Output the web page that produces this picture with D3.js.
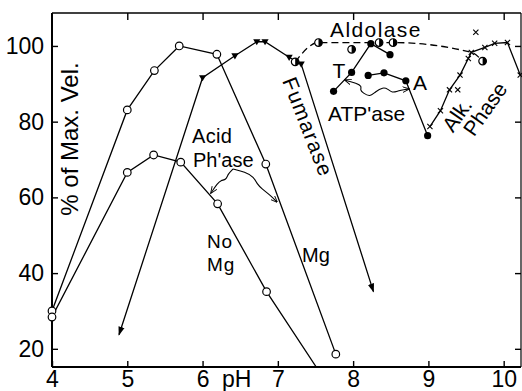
<!DOCTYPE html>
<html><head><meta charset="utf-8">
<script src="https://cdn.jsdelivr.net/npm/d3@7"></script>
<style>
html,body{margin:0;padding:0;background:#fff;}
svg{display:block;font-family:"Liberation Sans",Arial,sans-serif;}
</style></head>
<body><svg id="chart" width="522" height="391"></svg>
<script>
// ---- data (pH vs % of max velocity) ----
const pHTicks = [4,5,6,7,8,9,10];
const pctTicks = [20,40,60,80,100];

const acidMgPH  = [4.0, 5.0, 5.36, 5.69, 6.19, 6.84, 7.77];
const acidMgPct = [30.0, 83.1, 93.5, 100.0, 97.8, 68.8, 18.6];

const acidNoMgPH  = [4.0, 5.0, 5.35, 5.71, 6.2, 6.85, 7.51];
const acidNoMgPct = [28.4, 66.6, 71.2, 69.3, 58.3, 35.1, 15.2];

const fumarasePH  = [4.89, 6.0, 6.43, 6.72, 6.83, 7.15, 7.31, 8.27];
const fumarasePct = [23.7, 91.6, 97.4, 101.1, 101.1, 97.0, 95.2, 35.1];

const aldolasePH  = [7.23, 7.54, 8.345, 8.53, 9.57, 9.72];
const aldolasePct = [95.8, 100.9, 100.9, 100.9, 98.3, 96.0];
const aldolaseExtraPH = [7.98];
const aldolaseExtraPct = [99.1];

const atpTPH  = [7.74, 7.98, 8.235, 8.49];
const atpTPct = [88.0, 93.0, 100.6, 97.7];

const atpAPH  = [8.20, 8.41, 8.70, 8.99];
const atpAPct = [92.2, 92.9, 90.8, 76.3];

const alkPH  = [9.02, 9.16, 9.28, 9.42, 9.53, 9.57, 9.75, 9.88, 10.05, 10.22];
const alkPct = [78.7, 82.9, 88.4, 92.3, 96.7, 98.3, 99.6, 100.7, 100.9, 92.3];
const alkExtraPH  = [9.39, 9.63];
const alkExtraPct = [88.4, 103.6];

// ---- layout ----
const svg = d3.select("#chart");
const L = 52, R = 521, T = 13, B = 367;
const x = d3.scaleLinear().domain([4, 10.23]).range([L, R]);
const y = d3.scaleLinear().domain([15.2, 108.7]).range([B, T]);
const pts = (a, b) => a.map((v, i) => [v, b[i]]);
const line = d3.line().x(d => x(d[0])).y(d => y(d[1]));

const defs = svg.append("defs");
defs.append("clipPath").attr("id","clip").append("rect")
  .attr("x", L).attr("y", T).attr("width", R - L).attr("height", B - T);
defs.append("marker").attr("id","fill-arrow").attr("viewBox","0 0 10 10")
  .attr("refX", 9).attr("refY", 5).attr("markerWidth", 9).attr("markerHeight", 9)
  .attr("markerUnits","userSpaceOnUse").attr("orient","auto-start-reverse")
  .append("path").attr("d","M0,1.5 L10,5 L0,8.5 Z").attr("fill","#000");
defs.append("marker").attr("id","open-arrow").attr("viewBox","0 0 10 10")
  .attr("refX", 9).attr("refY", 5).attr("markerWidth", 7).attr("markerHeight", 7)
  .attr("markerUnits","userSpaceOnUse").attr("orient","auto-start-reverse")
  .append("path").attr("d","M0,1 L10,5 L0,9").attr("fill","none").attr("stroke","#000").attr("stroke-width",1.3);

// ---- frame & axes ----
const frame = svg.append("g").attr("stroke","#000").attr("fill","none");
frame.append("line").attr("x1",L).attr("x2",L).attr("y1",T).attr("y2",B).attr("stroke-width",2);
frame.append("line").attr("x1",L).attr("x2",R).attr("y1",B).attr("y2",B).attr("stroke-width",2);
frame.append("line").attr("x1",L).attr("x2",R).attr("y1",T).attr("y2",T).attr("stroke-width",1.6);
frame.append("line").attr("x1",R).attr("x2",R).attr("y1",T).attr("y2",B).attr("stroke-width",1.2);

const fmt = d3.format("d");
const xAxis = svg.append("g").attr("transform",`translate(0,${B})`)
  .call(d3.axisBottom(x).tickValues(pHTicks).tickFormat(fmt).tickSize(-6).tickPadding(4));
const xTop = svg.append("g").attr("transform",`translate(0,${T})`)
  .call(d3.axisTop(x).tickValues(pHTicks.filter(v=>v>4)).tickFormat("").tickSize(-7));
const yAxis = svg.append("g").attr("transform",`translate(${L},0)`)
  .call(d3.axisLeft(y).tickValues(pctTicks).tickFormat(fmt).tickSize(-6).tickPadding(8));
const yRight = svg.append("g").attr("transform",`translate(${R},0)`)
  .call(d3.axisRight(y).tickValues(pctTicks).tickFormat("").tickSize(-6));
[xAxis,xTop,yAxis,yRight].forEach(g=>{
  g.select(".domain").remove();
  g.selectAll("line").attr("stroke","#000").attr("stroke-width",1.4);
  g.selectAll("text").attr("font-size",23).attr("fill","#000")
   .attr("font-family",'"Liberation Sans",Arial,sans-serif');
});

// axis titles
svg.append("text").attr("x",222).attr("y",387).attr("font-size",23).text("pH");
svg.append("text").attr("transform","translate(78,139) rotate(-90)")
  .attr("text-anchor","middle").attr("font-size",24).text("% of Max. Vel.");

// ---- curves ----
const plot = svg.append("g").attr("clip-path","url(#clip)");
const stroke = {fill:"none", stroke:"#000", "stroke-width":1.3};
function path(data, extra){
  const p = plot.append("path").datum(data).attr("d", line);
  Object.entries(stroke).forEach(([k,v])=>p.attr(k,v));
  if (extra) Object.entries(extra).forEach(([k,v])=>p.attr(k,v));
  return p;
}
path(pts(acidMgPH, acidMgPct));
path(pts(acidNoMgPH, acidNoMgPct));
path(pts(fumarasePH, fumarasePct), {"marker-start":"url(#fill-arrow)","marker-end":"url(#fill-arrow)"});
plot.append("path").datum(pts(aldolasePH, aldolasePct))
  .attr("d", d3.line().x(d=>x(d[0])).y(d=>y(d[1])).curve(d3.curveMonotoneX))
  .attr("fill","none").attr("stroke","#000").attr("stroke-width",1.3).attr("stroke-dasharray","7,4");
path(pts(atpTPH, atpTPct));
path(pts(atpAPH, atpAPct));
path(pts(alkPH, alkPct));

// ---- markers ----
const mk = svg.append("g");
function openCircles(data){
  mk.selectAll(null).data(data).join("circle")
    .attr("cx",d=>x(d[0])).attr("cy",d=>y(d[1])).attr("r",3.8)
    .attr("fill","#fff").attr("stroke","#000").attr("stroke-width",1.2);
}
openCircles(pts(acidMgPH, acidMgPct));
openCircles(pts(acidNoMgPH, acidNoMgPct).slice(0,-1));

mk.selectAll(null).data(pts(fumarasePH, fumarasePct).slice(1,-1)).join("path")
  .attr("transform",d=>`translate(${x(d[0])},${y(d[1])})`)
  .attr("d","M-3.6,-2.6 L3.6,-2.6 L0,3.6 Z").attr("fill","#000");

const halfData = pts(aldolasePH, aldolasePct).filter((d,i)=>i!==4)
  .concat(pts(aldolaseExtraPH, aldolaseExtraPct));
const half = mk.selectAll(null).data(halfData).join("g")
  .attr("transform",d=>`translate(${x(d[0])},${y(d[1])})`);
half.append("circle").attr("r",3.8).attr("fill","#fff").attr("stroke","#000").attr("stroke-width",1.2);
half.append("path").attr("d","M0,-3.8 A3.8,3.8 0 0 1 0,3.8 Z").attr("fill","#000");

mk.selectAll(null).data(pts(atpTPH, atpTPct).concat(pts(atpAPH, atpAPct))).join("circle")
  .attr("cx",d=>x(d[0])).attr("cy",d=>y(d[1])).attr("r",3.6).attr("fill","#000");

mk.selectAll(null).data(pts(alkPH, alkPct).concat(pts(alkExtraPH, alkExtraPct))).join("path")
  .attr("transform",d=>`translate(${x(d[0])},${y(d[1])})`)
  .attr("d","M-2.6,-2.6L2.6,2.6M-2.6,2.6L2.6,-2.6").attr("stroke","#000").attr("stroke-width",1.1);

// ---- annotations ----
const ann = svg.append("g").attr("fill","#000");
const txt = (xx, yy, s, fs, extra) => {
  const t = ann.append("text").attr("x",xx).attr("y",yy).attr("font-size",fs).text(s);
  if (extra) Object.entries(extra).forEach(([k,v])=>t.attr(k,v));
  return t;
};
txt(330, 37, "Aldolase", 21, {"letter-spacing":1.4});
txt(328, 121, "ATP'ase", 21);
txt(339, 78, "T", 21, {"text-anchor":"middle"});
txt(420, 90, "A", 21, {"text-anchor":"middle"});
txt(192, 143, "Acid", 20, {"letter-spacing":0.3});
txt(193, 167, "Ph'ase", 20);
txt(207, 248, "No", 19, {"letter-spacing":0.8});
txt(207, 271, "Mg", 19, {"letter-spacing":0.8});
txt(302, 262, "Mg", 20);
ann.append("text").attr("transform","translate(308,127) rotate(68.6)")
  .attr("text-anchor","middle").attr("dy","0.35em").attr("font-size",21)
  .attr("letter-spacing",1.3).text("Fumarase");
ann.append("text").attr("transform","translate(457,115) rotate(-55)")
  .attr("text-anchor","middle").attr("dy","0.35em").attr("font-size",21).text("Alk.");
ann.append("text").attr("transform","translate(485,109) rotate(-55)")
  .attr("text-anchor","middle").attr("dy","0.35em").attr("font-size",21).text("Phase");

// curly pointer arrows (pixel annotations)
const curl = d3.line().curve(d3.curveBasis);
const curlPaths = [
  [[233,169],[228,174],[226,180],[221,180],[217,184],[213,190],[211,193]],
  [[233,169],[245,172],[254,177],[257,184],[262,189],[270,195],[277,202]],
  [[345,80],[348,81],[356,83],[362,86],[360,90],[363,93],[370,97],[375,92],[383,87],[388,89],[392,93],[398,91],[404,89.5],[409,89]]
];
curlPaths.forEach((p,i)=>{
  const a = ann.append("path").attr("d",curl(p)).attr("fill","none")
    .attr("stroke","#000").attr("stroke-width",1.1)
    .attr("marker-end","url(#open-arrow)");
  if (i===2) a.attr("marker-start","url(#open-arrow)");
});
</script></body></html>
